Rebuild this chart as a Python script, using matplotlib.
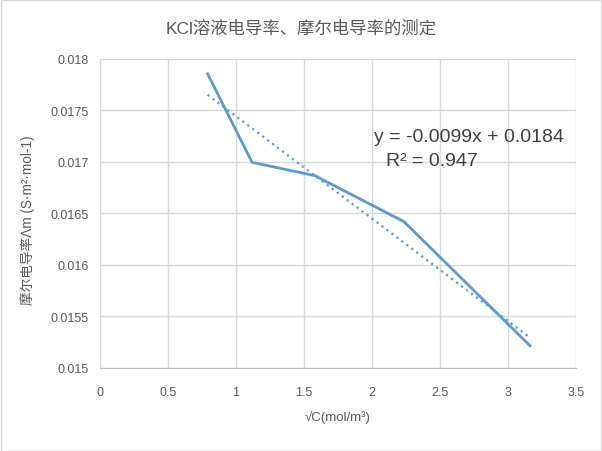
import numpy as np
import matplotlib.pyplot as plt
from matplotlib.patches import Rectangle

plt.rcParams['font.family'] = ['Liberation Sans', 'Noto Sans CJK SC', 'DejaVu Sans']

# sqrt(C) (mol/m^3)^0.5 and molar conductivity
sqrt_c = [0.791, 1.118, 1.581, 2.236, 3.162]
lam_m = [0.017857, 0.016997, 0.016867, 0.016420, 0.015216]
x_ticks = [0, 0.5, 1, 1.5, 2, 2.5, 3, 3.5]
y_ticks = [0.015, 0.0155, 0.016, 0.0165, 0.017, 0.0175, 0.018]
y_tick_labels = ['0.015', '0.0155', '0.016', '0.0165', '0.017', '0.0175', '0.018']

blue = '#5B9BD5'
grey = '#595959'

fig = plt.figure(figsize=(6.02, 4.52), dpi=100)
ax = fig.add_axes([100/602, 1-369/452, 476/602, 309/452])

ax.plot(sqrt_c, lam_m, color=blue, lw=2, zorder=3)

# linear trend line
k, b = np.polyfit(sqrt_c, lam_m, 1)
xt = np.array([sqrt_c[0], sqrt_c[-1]])
ax.plot(xt, k*xt + b, color=blue, lw=1.6, ls=(0, (1, 1.8)), zorder=3)

ax.text(0.5755, 0.748, 'y = -0.0099x + 0.0184', transform=ax.transAxes,
        fontsize=14, color='#404040', ha='left', va='center')
ax.text(0.6015, 0.672, 'R² = 0.947', transform=ax.transAxes,
        fontsize=14, color='#404040', ha='left', va='center')

ax.set_xlim(0, 3.5)
ax.set_ylim(0.015, 0.018)
ax.set_xticks(x_ticks)
ax.set_xticklabels([f'{v:g}' for v in x_ticks])
ax.set_yticks(y_ticks)
ax.set_yticklabels(y_tick_labels)
ax.tick_params(length=0, labelsize=9, labelcolor=grey, pad=8)
ax.tick_params(axis='x', pad=13)
ax.grid(True, color='#D9D9D9', lw=1)
ax.set_axisbelow(True)
for s in ['top', 'right', 'left']:
    ax.spines[s].set_visible(False)
ax.spines['bottom'].set_color('#BFBFBF')

ax.set_xlabel('√C(mol/m³)', fontsize=9.5, color=grey, labelpad=8)
ax.set_ylabel('摩尔电导率Λm (S·m²·mol-1)', fontsize=9.8, color=grey)
ax.yaxis.set_label_coords(-0.136, 0.482)

fig.text(0.5, 1-28/452, 'KCl溶液电导率、摩尔电导率的测定', fontsize=12.5,
         color=grey, ha='center', va='center')

fig.patches.append(Rectangle((0.001, 0.001), 0.997, 0.997, transform=fig.transFigure,
                             fill=False, edgecolor='#D9D9D9', lw=1))

fig.savefig('out.png', dpi=100)
